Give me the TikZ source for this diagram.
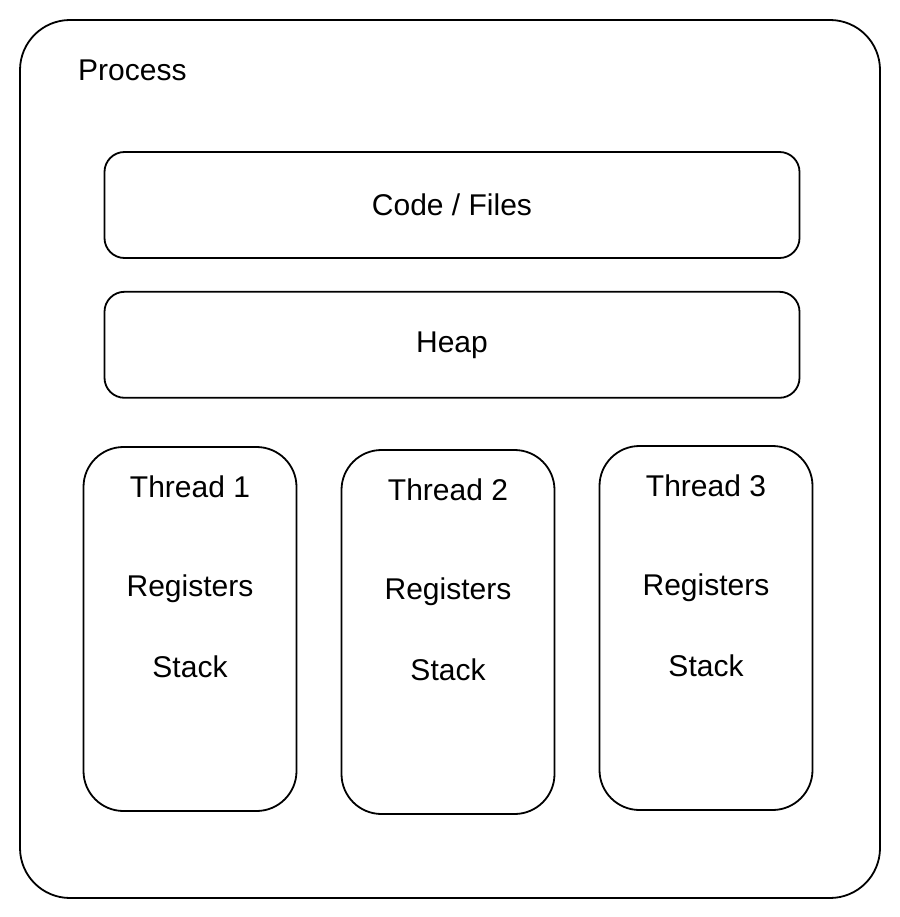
\documentclass[tikz,border=0pt]{standalone}
\usepackage{fontspec}
\setmainfont{Liberation Sans}
\usetikzlibrary{positioning}
\tikzstyle{box} = [draw, line width=1.8pt, rectangle, fill=white]
\tikzstyle{part} = [box, minimum width=695pt, minimum height=106pt, rounded corners=20pt]
\tikzstyle{thread} = [box, minimum width=213pt, minimum height=364pt, rounded corners=40pt]
\tikzstyle{txt} = [font=\fontsize{30}{36}\selectfont, inner sep=0pt]

\begin{document}
\begin{tikzpicture}[x=1pt, y=-1pt]
    \useasboundingbox (0,0) rectangle (899,917);
    \node[box, minimum width=860pt, minimum height=878pt, rounded corners=50pt] (process) at (450,459) {};
    \node[txt, anchor=west] (pname) at (78,70) {Process};
    \node[part, txt] (code) at (452,205) {Code / Files};
    \node[part, txt, below=32pt of code] (heap) {Heap};
    \node[thread] (t1) at (190,629) {};
    \node[thread, right of=t1, node distance=258pt, yshift=-3pt] (t2) {};
    \node[thread, right of=t2, node distance=258pt, yshift=4pt] (t3) {};
    \foreach \i in {1,2,3} {
        \node[txt, below=41pt of t\i.north, anchor=center] (t\i name) {Thread \i};
        \node[txt, below=102pt of t\i name.center, anchor=center] (t\i reg) {Registers};
        \node[txt, below=78pt of t\i reg.center, anchor=center] (t\i stack) {Stack};
    }
\end{tikzpicture}
\end{document}
